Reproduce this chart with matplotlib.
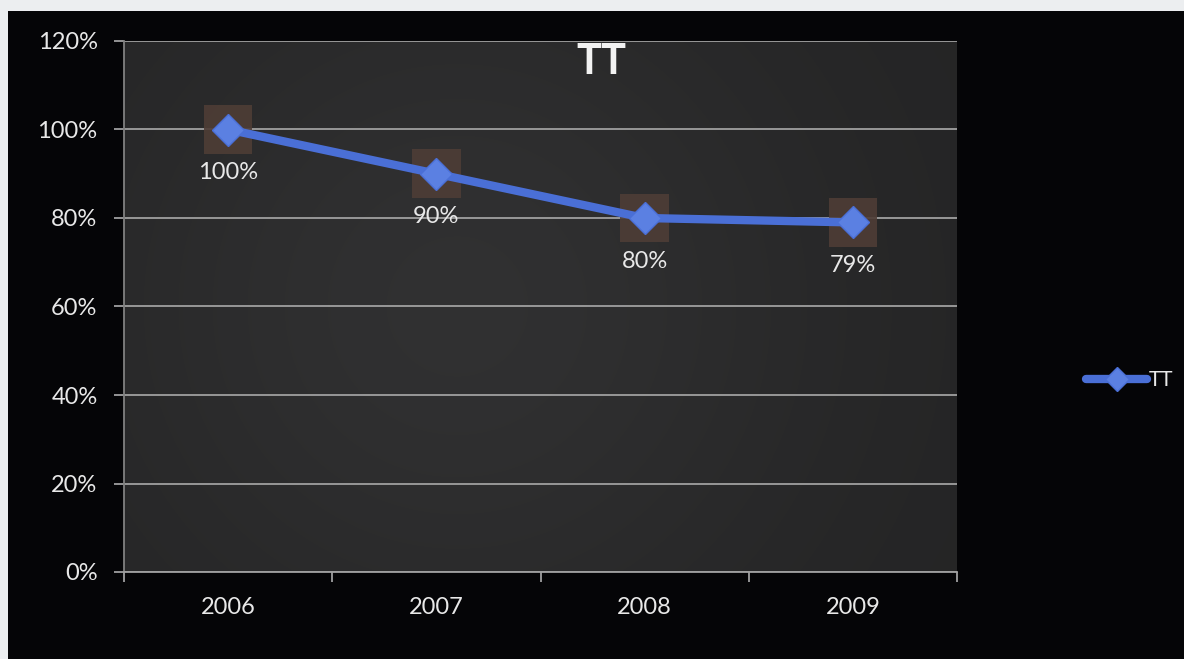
import numpy as np
import matplotlib.pyplot as plt
from matplotlib.patches import Rectangle
from matplotlib.ticker import FuncFormatter, MultipleLocator

years = ['2006', '2007', '2008', '2009']
tt_values = [1.00, 0.90, 0.80, 0.79]
tt_labels = ['100%', '90%', '80%', '79%']

plt.rcParams['font.family'] = ['Lato', 'DejaVu Sans']

fig = plt.figure(figsize=(11.84, 6.59), dpi=100)
fig.patch.set_facecolor('#eceef0')
# dark chart canvas, leaving the thin light strip at top and left
fig.patches.append(Rectangle((8 / 1184, 0), 1, (659 - 11) / 659,
                             transform=fig.transFigure, facecolor='#050507',
                             edgecolor='none', zorder=-5))

ax = fig.add_axes([124 / 1184, 87 / 659, 833 / 1184, 531 / 659])
ax.set_xlim(-0.5, 3.5)
ax.set_ylim(0, 1.2)

# soft shading of the plot area, lighter in the middle
gx = np.linspace(0, 1, 300)
gy = np.linspace(0, 1, 200)
X, Y = np.meshgrid(gx, gy)
shade = 0.14 + 0.05 * np.exp(-((X - 0.4) / 0.45) ** 2) * np.exp(-((Y - 0.5) / 0.7) ** 2)
ax.imshow(np.dstack([shade, shade, shade * 1.02]).clip(0, 1), extent=(-0.5, 3.5, 0, 1.2),
          aspect='auto', zorder=0, interpolation='bilinear')

xs = np.arange(len(years))
ax.scatter(xs, tt_values, marker='s', s=35 ** 2, color='#4e3d36', alpha=0.9,
           edgecolors='none', zorder=2)
ax.plot(xs, tt_values, color='#4a6fd6', lw=6, solid_capstyle='round',
        marker='D', markersize=16, markerfacecolor='#5b80e2',
        markeredgecolor='#4a6fd6', markeredgewidth=1, zorder=3, label='TT')

for x, v, lab in zip(xs, tt_values, tt_labels):
    ax.annotate(lab, (x, v), xytext=(0, -31), textcoords='offset points',
                ha='center', va='center', color='#e8e8e8', fontsize=17, zorder=4)

ax.text(0.573, 0.96, 'TT', transform=ax.transAxes, ha='center', va='center',
        color='#f2f2f2', fontsize=30, fontweight='bold', zorder=4)

ax.yaxis.set_major_locator(MultipleLocator(0.2))
ax.yaxis.set_major_formatter(FuncFormatter(lambda v, p: f'{v * 100:.0f}%'))
ax.grid(axis='y', color='#a0a0a0', lw=1.3, zorder=1)
ax.set_xticks(xs)
ax.set_xticklabels(years)
ax.set_xticks(np.arange(-0.5, 4, 1), minor=True)
ax.tick_params(axis='x', which='major', length=0, pad=18, labelsize=17, colors='#e8e8e8')
ax.tick_params(axis='x', which='minor', length=7, width=1.3, color='#a0a0a0', direction='out')
ax.tick_params(axis='y', length=7, width=1.3, color='#a0a0a0', labelsize=17,
               labelcolor='#e8e8e8', pad=12)

for side in ['top', 'right']:
    ax.spines[side].set_visible(False)
ax.spines['left'].set_color('#808080')
ax.spines['bottom'].set_color('#a0a0a0')
ax.spines['left'].set_linewidth(1.3)
ax.spines['bottom'].set_linewidth(1.3)

leg = fig.legend(loc='center left', bbox_to_anchor=(1076 / 1184, 279 / 659), frameon=False,
                 fontsize=15, handlelength=2.9, handletextpad=0.1, borderpad=0,
                 markerscale=0.75)
for t in leg.get_texts():
    t.set_color('#e8e8e8')

fig.savefig('out.png', dpi=100, facecolor=fig.get_facecolor())
